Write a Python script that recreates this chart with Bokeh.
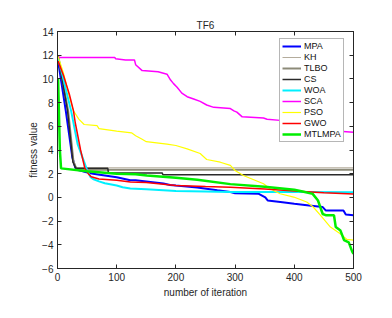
from bokeh.plotting import figure
from bokeh.models import LinearAxis, Legend, LegendItem, Range1d, FixedTicker
from bokeh.embed import file_html
from bokeh.resources import INLINE

# ---- data ----
mpa_x = [1, 14, 25, 30, 35, 47, 60, 80, 100, 123, 132, 150, 179, 190, 200, 236, 270, 292, 300, 340, 351, 355, 380, 400, 425, 448, 453, 483, 487, 500]
mpa_y = [11.5, 7.3, 3.4, 2.5, 2.3, 2.15, 2.0, 1.85, 1.7, 1.45, 1.45, 1.35, 1.17, 1.05, 1.0, 0.84, 0.6, 0.45, 0.35, 0.3, 0.0, -0.26, -0.4, -0.53, -0.68, -0.82, -1.1, -1.1, -1.45, -1.5]

kh_x = [1, 18, 27, 32, 500]
kh_y = [12.0, 7.3, 3.1, 2.5, 2.5]

tlbo_x = [1, 18, 27, 33, 500]
tlbo_y = [12.0, 7.3, 3.0, 2.33, 2.33]

cs_x = [1, 17, 26, 31, 85, 86, 177, 178, 500]
cs_y = [11.9, 7.3, 3.0, 2.45, 2.45, 2.05, 2.05, 1.92, 1.92]

woa_x = [1, 10, 23, 34, 45, 50, 56, 60, 70, 80, 100, 110, 123, 150, 200, 250, 292, 350, 400, 500]
woa_y = [11.8, 10.0, 7.3, 4.5, 3.0, 2.3, 1.7, 1.55, 1.35, 1.2, 1.0, 0.85, 0.75, 0.68, 0.55, 0.5, 0.45, 0.45, 0.45, 0.44]

sca_x = [1, 97, 98, 115, 130, 132, 143, 170, 185, 191, 196, 202, 210, 219, 230, 241, 252, 264, 292, 298, 303, 312, 348, 354, 376, 400, 430, 470, 500]
sca_y = [11.8, 11.8, 11.7, 11.6, 11.6, 11.2, 10.7, 10.6, 10.4, 9.9, 9.6, 9.3, 8.8, 8.5, 8.3, 8.1, 7.8, 7.6, 7.5, 7.3, 7.2, 6.8, 6.7, 6.6, 6.5, 6.2, 5.9, 5.6, 5.5]

pso_x = [1, 10, 20, 27, 36, 45, 67, 70, 100, 125, 132, 143, 150, 185, 200, 219, 241, 252, 275, 292, 300, 314, 348, 359, 376, 399, 421, 432, 444, 461, 477, 489, 500]
pso_y = [11.9, 10.5, 8.5, 7.3, 6.6, 6.15, 6.05, 5.8, 5.6, 5.45, 5.2, 4.9, 4.7, 4.5, 4.38, 4.1, 3.7, 3.2, 2.97, 2.7, 2.27, 1.85, 1.15, 0.73, 0.31, 0.03, -0.39, -0.81, -1.5, -2.5, -3.05, -3.55, -3.6]

gwo_x = [1, 10, 20, 27, 30, 39, 46, 52, 57, 70, 100, 123, 150, 200, 250, 292, 350, 400, 450, 500]
gwo_y = [11.5, 10.3, 8.7, 7.3, 6.3, 4.0, 2.5, 2.0, 1.75, 1.55, 1.45, 1.3, 1.25, 1.0, 0.92, 0.86, 0.7, 0.55, 0.4, 0.28]

mtl_x = [1, 2, 4, 6, 50, 100, 132, 151, 200, 236, 292, 350, 400, 414, 431, 440, 448, 453, 467, 470, 478, 484, 492, 498, 500]
mtl_y = [10.0, 8.0, 4.0, 2.45, 2.2, 2.0, 1.95, 1.85, 1.65, 1.48, 1.12, 0.9, 0.65, 0.5, 0.3, -0.26, -1.4, -1.5, -1.5, -2.5, -2.8, -3.6, -3.8, -4.6, -4.75]

series = [
    ("MPA", mpa_x, mpa_y, "#0000ff", 2),
    ("KH", kh_x, kh_y, "#b4ac9c", 1),
    ("TLBO", tlbo_x, tlbo_y, "#8c8a78", 2),
    ("CS", cs_x, cs_y, "#2a2a2a", 1.5),
    ("WOA", woa_x, woa_y, "#00f0ff", 2),
    ("SCA", sca_x, sca_y, "#ff00ff", 1.5),
    ("PSO", pso_x, pso_y, "#ffff00", 1.2),
    ("GWO", gwo_x, gwo_y, "#ff0000", 1.5),
    ("MTLMPA", mtl_x, mtl_y, "#00ee00", 2.5),
]

x_ticks = [0, 100, 200, 300, 400, 500]
y_ticks = [-6, -4, -2, 0, 2, 4, 6, 8, 10, 12, 14]

FONT = "Liberation Sans"

p = figure(width=384, height=310, output_backend="svg", toolbar_location=None,
           x_range=Range1d(0, 500), y_range=Range1d(-6, 14),
           min_border_left=57, min_border_right=31, min_border_top=31, min_border_bottom=42,
           title="TF6")
p.title.align = "center"
p.title.text_font = FONT
p.title.text_font_size = "10px"
p.title.text_font_style = "normal"
p.title.text_color = "#262626"
p.title.standoff = 1
p.grid.visible = False
p.outline_line_color = "#262626"
p.outline_line_width = 1
p.background_fill_color = "white"
p.border_fill_color = "white"

for ax in (p.xaxis[0], p.yaxis[0]):
    ax.major_tick_in = 4
    ax.major_tick_out = 0
    ax.minor_tick_in = 0
    ax.minor_tick_out = 0
    ax.axis_line_color = "#262626"
    ax.major_tick_line_color = "#262626"
    ax.major_label_text_font = FONT
    ax.major_label_text_font_size = "10px"
    ax.major_label_text_color = "#262626"
    ax.axis_label_text_font = FONT
    ax.axis_label_text_font_size = "10px"
    ax.axis_label_text_font_style = "normal"
    ax.axis_label_text_color = "#262626"
    ax.major_label_standoff = 4
p.xaxis[0].ticker = FixedTicker(ticks=x_ticks)
p.yaxis[0].ticker = FixedTicker(ticks=y_ticks)
p.xaxis[0].axis_label = "number of iteration"
p.yaxis[0].axis_label = "fitness value"
p.xaxis[0].axis_label_standoff = 3
p.yaxis[0].axis_label_standoff = 0

top_ax = LinearAxis(ticker=FixedTicker(ticks=x_ticks), major_tick_in=4, major_tick_out=0,
                    minor_tick_in=0, minor_tick_out=0,
                    major_label_overrides={t: "" for t in x_ticks},
                    major_label_standoff=0, axis_line_color="#262626", major_tick_line_color="#262626")
right_ax = LinearAxis(ticker=FixedTicker(ticks=y_ticks), major_tick_in=4, major_tick_out=0,
                      minor_tick_in=0, minor_tick_out=0,
                      major_label_overrides={t: "" for t in y_ticks},
                      major_label_standoff=0, axis_line_color="#262626", major_tick_line_color="#262626")
p.add_layout(top_ax, "above")
p.add_layout(right_ax, "right")

items = []
for name, xs, ys, col, w in series:
    r = p.line(xs, ys, line_color=col, line_width=w)
    items.append(LegendItem(label=name, renderers=[r]))

legend = Legend(items=items, location=(222, 126))
legend.label_text_font = FONT
legend.label_text_font_size = "9px"
legend.label_text_color = "#111111"
legend.label_height = 10
legend.glyph_height = 10
legend.glyph_width = 19
legend.spacing = 1
legend.padding = 2
legend.margin = 0
legend.label_standoff = 3
legend.border_line_color = "#6e6e6e"
legend.border_line_width = 1
legend.background_fill_alpha = 1
p.add_layout(legend, "center")

open("out.html", "w").write(file_html(p, INLINE))
